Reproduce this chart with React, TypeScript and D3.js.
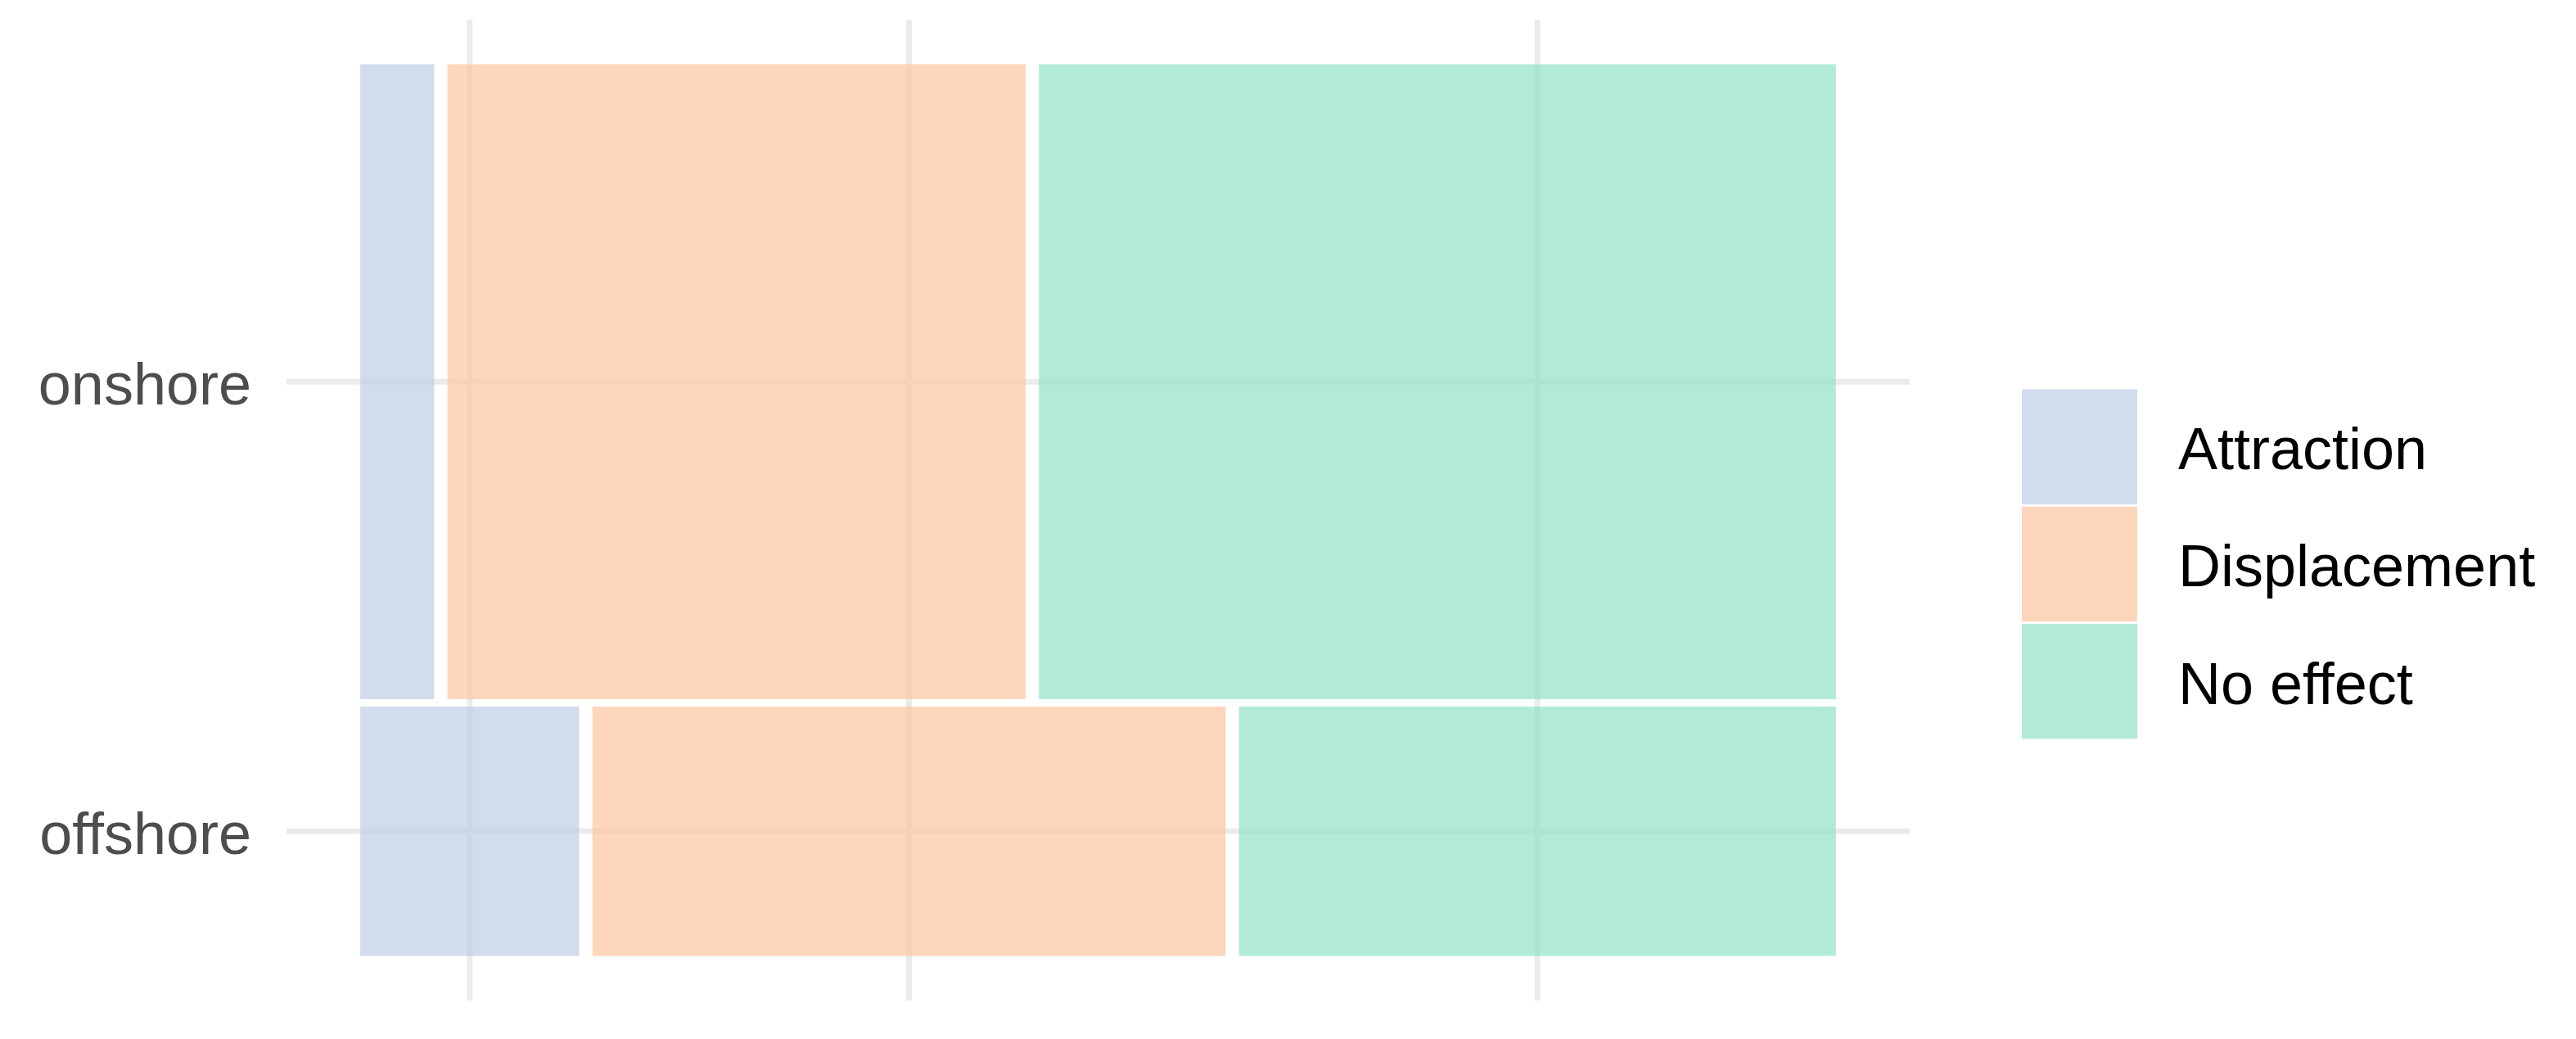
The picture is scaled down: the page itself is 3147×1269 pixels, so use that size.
import { useEffect } from "react";
import * as d3 from "d3";

// categories
const locations = ["onshore", "offshore"];
const effects = ["Attraction", "Displacement", "No effect"];

const locationShare = [71.8, 28.2];

// effect split within each location (%)
const onshoreValues = [5.1, 39.9, 55.0];
const offshoreValues = [15.1, 43.7, 41.2];

const effectColors = ["#bfcde5", "#fec49e", "#92e1c9"];

const W = 3147;
const H = 1269;

export default function App() {
  useEffect(() => {
    document.body.style.margin = "0";
  }, []);

  // panel with ggplot-like 5% expansion
  const x = d3.scaleLinear().domain([-0.05, 1.05]).range([350, 2333]);
  const y = d3.scaleLinear().domain([-0.05, 1.05]).range([1222, 24]);
  const color = d3.scaleOrdinal<string, string>().domain(effects).range(effectColors);

  const gapX = 0.009;
  const gapY = 0.0083;

  const shareTotal = d3.sum(locationShare);
  const valuesByLoc = [onshoreValues, offshoreValues];

  // stack rows bottom-up: offshore first, then onshore
  const order = [1, 0];
  let yCursor = 0;
  const rows = order.map((i) => {
    const h = (1 - gapY * (order.length - 1)) * (locationShare[i] / shareTotal);
    const vals = valuesByLoc[i];
    const vSum = d3.sum(vals);
    let xCursor = 0;
    const tiles = vals.map((v, j) => {
      const w = (1 - gapX * (vals.length - 1)) * (v / vSum);
      const t = { effect: effects[j], x0: xCursor, x1: xCursor + w };
      xCursor += w + gapX;
      return t;
    });
    const row = { loc: locations[i], y0: yCursor, y1: yCursor + h, tiles };
    yCursor += h + gapY;
    return row;
  });

  const offshoreRow = rows.find((r) => r.loc === "offshore")!;
  const xBreaks = offshoreRow.tiles.map((t) => (t.x0 + t.x1) / 2);
  const yBreaks = rows.map((r) => (r.y0 + r.y1) / 2);

  const font = "'Liberation Sans', Arial, sans-serif";
  const gridColor = "#ebebeb";

  const keyX = 2470;
  const keyW = 141;
  const keyH = 143.3;
  const keyTop = 474;

  return (
    <svg width={W} height={H} style={{ display: "block", background: "#fff" }}>
      {/* grid */}
      <g>
        {yBreaks.map((b, i) => (
          <line key={"h" + i} x1={x.range()[0]} x2={x.range()[1]} y1={y(b)} y2={y(b)}
            stroke={gridColor} strokeWidth={7} />
        ))}
        {xBreaks.map((b, i) => (
          <line key={"v" + i} x1={x(b)} x2={x(b)} y1={y.range()[0]} y2={y.range()[1]}
            stroke={gridColor} strokeWidth={7} />
        ))}
      </g>

      {/* mosaic tiles */}
      <g>
        {rows.map((r) =>
          r.tiles.map((t) => (
            <rect key={r.loc + t.effect} x={x(t.x0)} y={y(r.y1)}
              width={x(t.x1) - x(t.x0)} height={y(r.y0) - y(r.y1)}
              fill={color(t.effect)} fillOpacity={0.7} />
          ))
        )}
      </g>

      {/* y axis labels */}
      <g fontFamily={font} fontSize={72} fill="#4d4d4d" textAnchor="end">
        {rows.map((r) => (
          <text key={r.loc} x={307} y={y((r.y0 + r.y1) / 2)} dy="0.38em">{r.loc}</text>
        ))}
      </g>

      {/* legend */}
      <g fontFamily={font} fontSize={72} fill="#000">
        {effects.map((e, i) => (
          <g key={e}>
            <rect x={keyX} y={keyTop + i * keyH + 1.5} width={keyW} height={keyH - 3}
              fill={color(e)} fillOpacity={0.7} />
            <text x={2661} y={keyTop + i * keyH + keyH / 2} dy="0.38em">{e}</text>
          </g>
        ))}
      </g>
    </svg>
  );
}
